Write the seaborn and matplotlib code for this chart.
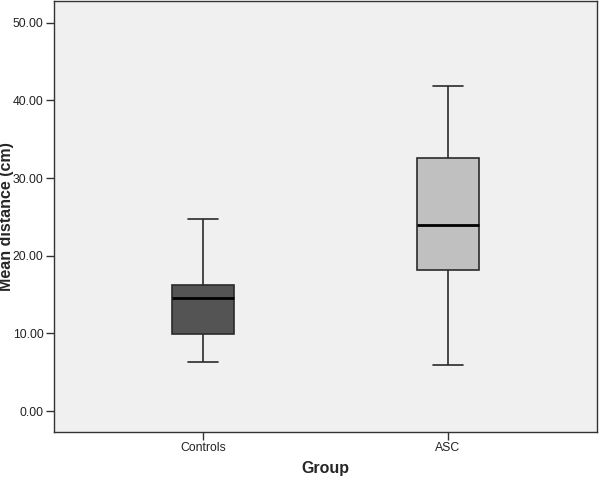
import numpy as np
import pandas as pd
import matplotlib
matplotlib.use("Agg")
import matplotlib.pyplot as plt
import seaborn as sns
from matplotlib.ticker import FormatStrFormatter

# five-number summaries: min, Q1, median, Q3, max
groups = ["Controls", "ASC"]
controls_vals = [6.3, 9.9, 14.6, 16.2, 24.7]
asc_vals = [5.9, 18.1, 24.0, 32.6, 41.9]
y_ticks = [0, 10, 20, 30, 40, 50]

df = pd.DataFrame({
    "Group": ["Controls"] * len(controls_vals) + ["ASC"] * len(asc_vals),
    "Mean distance (cm)": controls_vals + asc_vals,
})

sns.set_style("ticks")
plt.rcParams["font.family"] = ["Liberation Sans", "DejaVu Sans"]

fig = plt.figure(figsize=(6, 4.8), dpi=100)
ax = fig.add_axes([0.09, 0.1, 0.905, 0.898])
ax.set_facecolor("#f0f0f0")

sns.boxplot(data=df, x="Group", y="Mean distance (cm)", order=groups,
            hue="Group", hue_order=groups, palette=["#545454", "#c0c0c0"],
            legend=False, whis=np.inf, width=0.25, ax=ax,
            linecolor="#2a2a2a", linewidth=1.2,
            medianprops={"color": "black", "linewidth": 2})

ax.set_xlim(-0.608, 1.608)
ax.set_ylim(-2.7, 52.8)
ax.set_yticks(y_ticks)
ax.yaxis.set_major_formatter(FormatStrFormatter("%.2f"))
ax.tick_params(axis="both", labelsize=8.8, length=6, width=1, pad=1.5,
               color="#333333", labelcolor="#222222", direction="out")
for s in ax.spines.values():
    s.set_visible(True)
    s.set_color("#333333")
    s.set_linewidth(1)

ax.set_xlabel("Group", fontsize=11.5, fontweight="bold")
ax.set_ylabel("Mean distance (cm)", fontsize=11.5, fontweight="bold")
ax.xaxis.set_label_coords(0.5, -0.068)
ax.yaxis.set_label_coords(-0.073, 0.5)

fig.savefig("out.png", dpi=100)
plt.close(fig)
